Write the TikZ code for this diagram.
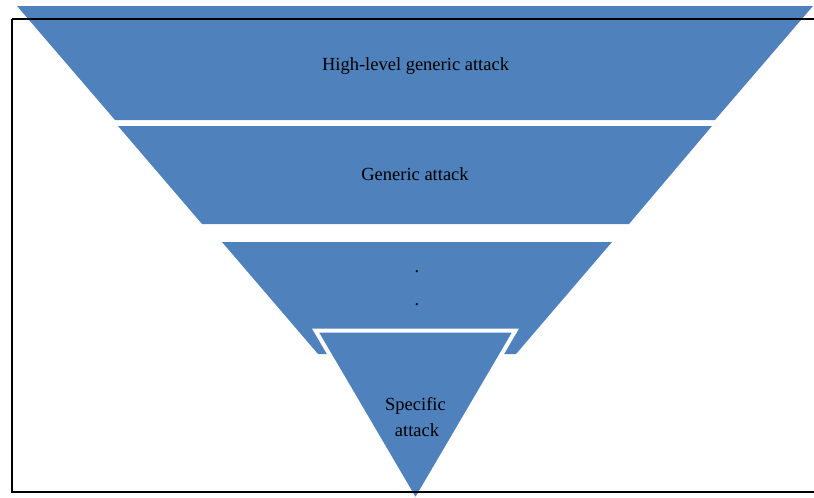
\documentclass[tikz,border=0pt]{standalone}
\usepackage{fontspec}
\setmainfont{Liberation Serif}
\definecolor{funnelblue}{HTML}{4F81BD}
\begin{document}
\begin{tikzpicture}[x=1pt,y=-1pt,
  layer/.style={fill=funnelblue, draw=none},
  tip/.style={fill=funnelblue, draw=white, line width=4pt, line join=miter},
  lbl/.style={anchor=base, inner sep=0pt, font=\fontsize{18.5}{22}\selectfont},
  frame/.style={draw=black, line width=2pt}]
\useasboundingbox (0,0) rectangle (814,498);
% funnel layers, widest on top
\path[layer] (17,6) -- (813,6) -- (715,120) -- (115,120) -- cycle;
\path[layer] (118,126) -- (712,126) -- (629,224) -- (202,224) -- cycle;
\path[layer] (222,242) -- (612,242) -- (516,354) -- (318,354) -- cycle;
% bottom tip with white outline
\path[tip] (315.5,330.5) -- (515.5,330.5) -- (415.5,501) -- cycle;
% labels
\node[lbl] (t1) at (415.5,70) {High-level generic attack};
\node[lbl] (t2) at (415,180) {Generic attack};
\node[lbl] (d1) at (417,272) {.};
\node[lbl] (d2) at (417,305) {.};
\node[lbl] (t3) at (415.5,410) {Specific};
\node[lbl] (t4) at (417,436) {attack};
% outer frame
\draw[frame] (11.5,19) -- (830,19) (11.5,19) -- (11.5,491.5) -- (830,491.5);
\end{tikzpicture}
\end{document}
